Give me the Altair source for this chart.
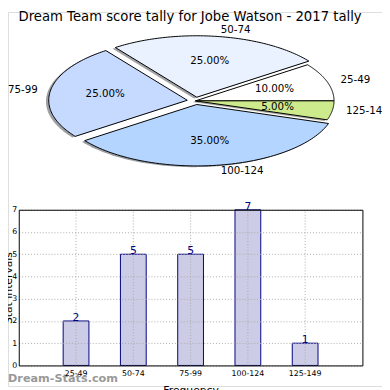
import altair as alt
import numpy as np
import pandas as pd

title_text = "Dream Team score tally for Jobe Watson - 2017 tally"
categories = ["25-49", "50-74", "75-99", "100-124", "125-149"]
counts = [2, 5, 5, 7, 1]
pie_colors = ["#ffffff", "#eaf2ff", "#c6daff", "#b4d5ff", "#cdea8c"]
explode = [0.0, 0.06, 0.06, 0.06, 0.0]
y_ticks = [0, 1, 2, 3, 4, 5, 6, 7]
watermark = "Dream-Stats.com"
x_title = "Frequency"
y_title = "Stat Intervals"

FONT = "DejaVu Sans"

# ---- pie geometry (unit circle, matplotlib-style: start at 0 deg, counter-clockwise)
total = sum(counts)
wedge_rows, shadow_rows, pct_rows, lab_rows = [], [], [], []
cum = 0
for cat, c, e in zip(categories, counts, explode):
    a0 = 2 * np.pi * cum / total
    a1 = 2 * np.pi * (cum + c) / total
    mid = (a0 + a1) / 2
    cx, cy = e * np.cos(mid), e * np.sin(mid)
    ts = np.linspace(a0, a1, 80)
    pts = [(cx, cy)] + [(cx + np.cos(t), cy + np.sin(t)) for t in ts] + [(cx, cy)]
    for k, (px_, py_) in enumerate(pts):
        wedge_rows.append({"slice": cat, "ord": k, "x": px_, "y": py_})
        shadow_rows.append({"slice": cat, "ord": k, "x": px_ - 0.02, "y": py_ - 0.02})
    pct_rows.append({"slice": cat, "x": cx + 0.6 * np.cos(mid), "y": cy + 0.6 * np.sin(mid),
                     "t": f"{100 * c / total:.2f}%"})
    lab_rows.append({"slice": cat, "x": cx + 1.1 * np.cos(mid), "y": cy + 1.1 * np.sin(mid),
                     "t": cat, "side": "L" if np.cos(mid) > 0 else "R"})
    cum += c

wedge_df = pd.DataFrame(wedge_rows)
shadow_df = pd.DataFrame(shadow_rows)
pct_df = pd.DataFrame(pct_rows)
lab_df = pd.DataFrame(lab_rows)

shadow_colors = []
for col in pie_colors:
    r, g, b = (int(col[i:i + 2], 16) for i in (1, 3, 5))
    shadow_colors.append("#%02x%02x%02x" % (int(r * 0.3), int(g * 0.3), int(b * 0.3)))

px = alt.Scale(domain=[-1, 1], range=[50, 333])
py = alt.Scale(domain=[-1, 1], range=[153.5, 28])

def pxy():
    return dict(x=alt.X("x:Q", scale=px, axis=None), y=alt.Y("y:Q", scale=py, axis=None))

shadow = alt.Chart(shadow_df).mark_line(strokeOpacity=0, fillOpacity=0.5).encode(
    order="ord:Q", detail="slice:N",
    fill=alt.Fill("slice:N", scale=alt.Scale(domain=categories, range=shadow_colors), legend=None),
    **pxy())

wedges = alt.Chart(wedge_df).mark_line(stroke="black", strokeWidth=1).encode(
    order="ord:Q", detail="slice:N",
    fill=alt.Fill("slice:N", scale=alt.Scale(domain=categories, range=pie_colors), legend=None),
    **pxy())

pct_text = alt.Chart(pct_df).mark_text(font=FONT, fontSize=10.5, color="black", baseline="middle", align="center").encode(
    text="t:N", **pxy())

lab_left = alt.Chart(lab_df).transform_filter("datum.side == 'L'").mark_text(
    font=FONT, fontSize=10.5, color="black", baseline="middle", align="left").encode(text="t:N", **pxy())
lab_right = alt.Chart(lab_df).transform_filter("datum.side == 'R'").mark_text(
    font=FONT, fontSize=10.5, color="black", baseline="middle", align="right", dx=1).encode(text="t:N", **pxy())

# ---- bar chart
bar_df = pd.DataFrame({"cat": categories, "count": counts})
xb = alt.Scale(type="band", domain=categories, range=[11, 362], paddingInner=0.55, paddingOuter=0.775)
yb = alt.Scale(domain=[0, 7], range=[361, 202], nice=False, zero=True)

def xcat(axis=None):
    if axis is None:
        return alt.X("cat:N", sort=categories, scale=xb, bandPosition=0.5, axis=None)
    return alt.X("cat:N", sort=categories, scale=xb, axis=axis)

bars = alt.Chart(bar_df).mark_bar(fill="#ccccE6", stroke="#000080", strokeWidth=1).encode(
    x=xcat(alt.Axis(orient="bottom", offset=-21, labelAngle=0, labelFont=FONT, labelFontSize=8,
                    labelColor="black", labelPadding=4, ticks=False, grid=False,
                    domainColor="black", domainWidth=1,
                    title=x_title, titleFont=FONT, titleFontSize=11, titleFontWeight="normal",
                    titleColor="black", titlePadding=8, zindex=1)),
    y=alt.Y("count:Q", scale=yb,
            axis=alt.Axis(orient="left", offset=-11, values=y_ticks, labelFont=FONT, labelFontSize=8,
                          labelColor="black", labelPadding=2, ticks=False, grid=True,
                          gridColor="#aaaaaa", gridDash=[1, 2], domainColor="black", domainWidth=1,
                          title=None, zindex=1)),
)

vgrid = alt.Chart(bar_df).mark_rule(color="#aaaaaa", strokeDash=[1, 2], strokeWidth=1).encode(
    x=xcat(),
    y=alt.Y("lo:Q", scale=yb, axis=None),
    y2="hi:Q",
).transform_calculate(lo="0", hi="7")

bar_text = alt.Chart(bar_df).mark_text(font=FONT, fontSize=11, color="#000080", baseline="alphabetic",
                                        align="center", dy=0).encode(
    x=xcat(),
    y=alt.Y("count:Q", scale=yb, axis=None),
    text="count:Q")

frame = alt.Chart(bar_df).mark_bar(opacity=0).encode(
    x=xcat(alt.Axis(orient="top", offset=-202, labels=False, ticks=False, grid=False,
                    domainColor="black", domainWidth=1, title=None, zindex=2)),
    y=alt.Y("count:Q", scale=yb,
            axis=alt.Axis(orient="right", offset=-20, labels=False, ticks=False, grid=False,
                          domainColor="black", domainWidth=1, title=None, zindex=2)),
)

# ---- free texts
title_mark = alt.Chart(pd.DataFrame({"t": [title_text]})).mark_text(
    font=FONT, fontSize=13.5, color="black", align="center", baseline="alphabetic").encode(
    text="t:N", x=alt.value(186), y=alt.value(9.5))

ytitle_mark = alt.Chart(pd.DataFrame({"t": [y_title]})).mark_text(
    font=FONT, fontSize=11, color="black", align="center", baseline="alphabetic", angle=270).encode(
    text="t:N", x=alt.value(3.8), y=alt.value(282))

wm_mark = alt.Chart(pd.DataFrame({"t": [watermark]})).mark_text(
    font=FONT, fontSize=11.5, fontWeight="bold", color="#999999", align="left", baseline="alphabetic").encode(
    text="t:N", x=alt.value(0), y=alt.value(378))

chart = alt.layer(
    shadow, wedges, pct_text, lab_left, lab_right,
    bars, vgrid, bar_text, frame,
    title_mark, ytitle_mark, wm_mark,
).resolve_scale(x="independent", y="independent", fill="independent").properties(
    width=382, height=382, autosize=alt.AutoSizeParams(type="none"), padding=0
).configure_view(stroke="transparent").configure(font=FONT)

chart.save("out.html", embed_options={"renderer": "svg", "actions": False})
